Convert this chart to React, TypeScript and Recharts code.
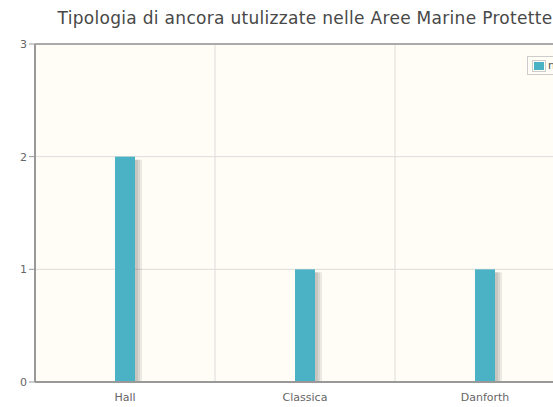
import React from 'react';
import { BarChart, Bar, XAxis, YAxis, CartesianGrid, ReferenceLine } from 'recharts';

const categories = ['Hall', 'Classica', 'Danforth'];
const values = [2, 1, 1];
const yTicks = [0, 1, 2, 3];
const seriesName = 'numero';
const title = 'Tipologia di ancora utulizzate nelle Aree Marine Protette';

const data = categories.map((c, i) => ({ name: c, v: values[i] }));

const FONT = 'DejaVu Sans, Verdana, sans-serif';

const BarShape = (props: any) => {
  const { x, y, width, height, fill } = props;
  if (!height || height <= 0) return null;
  return (
    <g>
      <rect x={x + 1} y={y + 3} width={width + 2} height={height - 3} fill="#000" opacity={0.08} />
      <rect x={x + 1} y={y + 3} width={width + 4} height={height - 3} fill="#000" opacity={0.08} />
      <rect x={x + 1} y={y + 3} width={width + 6} height={height - 3} fill="#000" opacity={0.08} />
      <rect x={x} y={y} width={width} height={height} fill={fill} />
    </g>
  );
};

export default function App() {
  return (
    <div style={{ position: 'absolute', left: 0, top: 0, width: 553, height: 407, overflow: 'hidden', background: '#fff' }}>
      <div style={{ position: 'absolute', left: 0, width: 610, top: 8, textAlign: 'center', fontFamily: FONT, fontSize: 17, letterSpacing: 0.3, color: '#484848', whiteSpace: 'nowrap' }}>
        {title}
      </div>
      <BarChart
        width={620}
        height={407}
        data={data}
        margin={{ top: 44, right: 45, left: 0, bottom: 0 }}
      >
        <CartesianGrid
          fill="#fffdf6"
          stroke="#dcdcdc"
          verticalCoordinatesGenerator={({ offset }: any) =>
            categories.map((_, i) => offset.left + (i * offset.width) / categories.length)
          }
        />
        <XAxis
          dataKey="name"
          height={25}
          axisLine={{ stroke: '#999', strokeWidth: 2 }}
          tickLine={false}
          tick={{ fill: '#666', fontSize: 11, fontFamily: FONT }}
          tickMargin={5}
        />
        <YAxis
          width={35}
          domain={[0, 3]}
          ticks={yTicks}
          axisLine={{ stroke: '#999', strokeWidth: 2 }}
          tickLine={{ stroke: '#999' }}
          tickSize={6}
          tick={{ fill: '#666', fontSize: 11, fontFamily: FONT }}
        />
        <ReferenceLine y={3} stroke="#aaa" strokeWidth={2} />
        <Bar dataKey="v" name={seriesName} fill="#4bb2c5" barSize={20} shape={<BarShape />} isAnimationActive={false} />
      </BarChart>
      <div style={{ position: 'absolute', top: 56, left: 527, border: '1px solid #ccc', background: '#fffdf6', padding: '2px 4px', display: 'flex', alignItems: 'center', fontFamily: FONT, fontSize: 11, color: '#555', whiteSpace: 'nowrap' }}>
        <div style={{ border: '1px solid #ccc', padding: 1, marginRight: 2, lineHeight: 0 }}>
          <div style={{ width: 10, height: 8, background: '#4bb2c5' }} />
        </div>
        <span>{seriesName}</span>
      </div>
    </div>
  );
}
